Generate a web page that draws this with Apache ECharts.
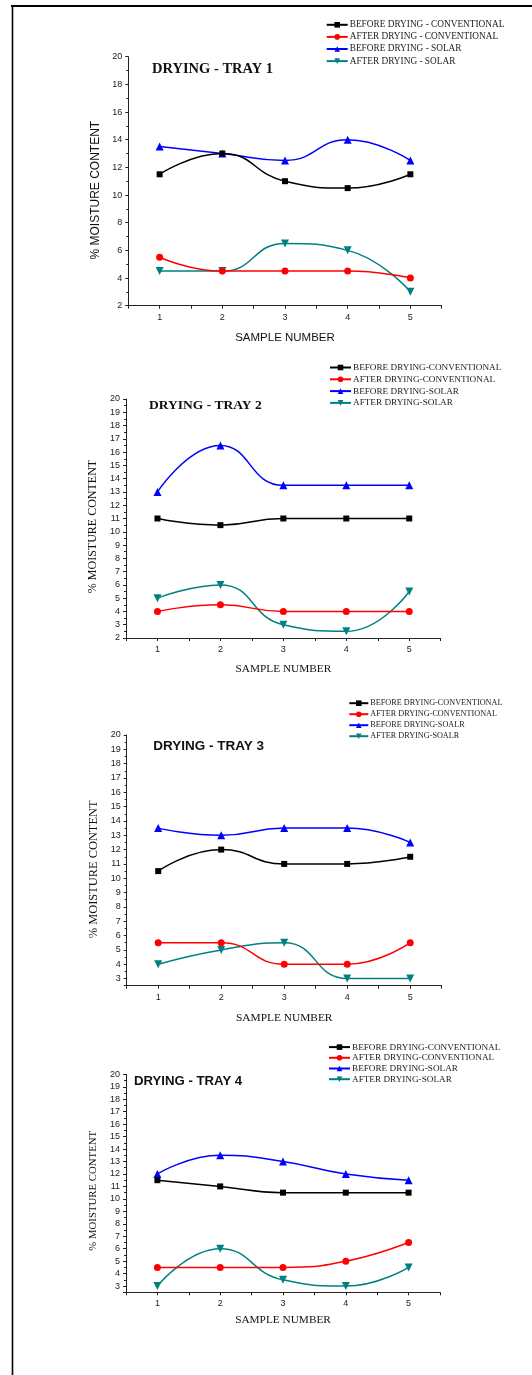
<!DOCTYPE html>
<html>
<head>
<meta charset="utf-8">
<script src="https://cdn.jsdelivr.net/npm/echarts@6/dist/echarts.min.js"></script>
<style>
html,body{margin:0;padding:0;background:#fff;}
#chart{width:532px;height:1375px;}
</style>
</head>
<body>
<div id="chart"></div>
<script>
// ---------- DATA ----------
const samples = [1, 2, 3, 4, 5];

const tray1Names = ['BEFORE DRYING - CONVENTIONAL', 'AFTER DRYING - CONVENTIONAL', 'BEFORE DRYING - SOLAR', 'AFTER DRYING - SOLAR'];
const tray1BeforeConv = [11.5, 13, 11, 10.5, 11.5];
const tray1AfterConv  = [5.5, 4.5, 4.5, 4.5, 4];
const tray1BeforeSolar = [13.5, 13, 12.5, 14, 12.5];
const tray1AfterSolar  = [4.5, 4.5, 6.5, 6, 3];

const tray2Names = ['BEFORE DRYING-CONVENTIONAL', 'AFTER DRYING-CONVENTIONAL', 'BEFORE DRYING-SOLAR', 'AFTER DRYING-SOLAR'];
const tray2BeforeConv = [11, 10.5, 11, 11, 11];
const tray2AfterConv  = [4, 4.5, 4, 4, 4];
const tray2BeforeSolar = [13, 16.5, 13.5, 13.5, 13.5];
const tray2AfterSolar  = [5, 6, 3, 2.5, 5.5];

const tray3Names = ['BEFORE DRYING-CONVENTIONAL', 'AFTER DRYING-CONVENTIONAL', 'BEFORE DRYING-SOALR', 'AFTER DRYING-SOALR'];
const tray3BeforeConv = [10.5, 12, 11, 11, 11.5];
const tray3AfterConv  = [5.5, 5.5, 4, 4, 5.5];
const tray3BeforeSolar = [13.5, 13, 13.5, 13.5, 12.5];
const tray3AfterSolar  = [4, 5, 5.5, 3, 3];

const tray4Names = ['BEFORE DRYING-CONVENTIONAL', 'AFTER DRYING-CONVENTIONAL', 'BEFORE DRYING-SOLAR', 'AFTER DRYING-SOLAR'];
const tray4BeforeConv = [11.5, 11, 10.5, 10.5, 10.5];
const tray4AfterConv  = [4.5, 4.5, 4.5, 5, 6.5];
const tray4BeforeSolar = [12, 13.5, 13, 12, 11.5];
const tray4AfterSolar  = [3, 6, 3.5, 3, 4.5];

const titles = ['DRYING - TRAY 1', 'DRYING - TRAY 2', 'DRYING - TRAY 3', 'DRYING - TRAY 4'];
const xAxisName = 'SAMPLE NUMBER';
const yAxisName = '% MOISTURE CONTENT';

// ---------- STYLE / LAYOUT ----------
const SERIF = '"Liberation Serif", "DejaVu Serif", serif';
const SANS = '"Liberation Sans", Arial, sans-serif';
const colors = ['#000000', '#ff0000', '#0000ff', '#008080'];
const symbols = ['rect', 'circle', 'triangle', 'path://M0,0 L10,0 L5,9 Z'];
const symbolSizes = [6, 7, 8, 8];

const panels = [
  { names: tray1Names, data: [tray1BeforeConv, tray1AfterConv, tray1BeforeSolar, tray1AfterSolar],
    grid: { left: 128.3, top: 56.7, width: 313.4, height: 249 },
    yMin: 2, yInterval: 2, titleFont: SERIF, titleSize: 14.5, titleLeft: 152, titleTop: 62,
    axisFont: SANS, xNameSize: 11.5, yNameSize: 12, xNameGap: 26, yNameGap: 24, yNameShift: 18,
    legend: { left: 325.7, top: 20.3, itemWidth: 21, gap: 3.1, font: 9.3 } },
  { names: tray2Names, data: [tray2BeforeConv, tray2AfterConv, tray2BeforeSolar, tray2AfterSolar],
    grid: { left: 126, top: 399, width: 314.7, height: 239 },
    yMin: 2, yInterval: 1, titleFont: SERIF, titleSize: 13.5, titleLeft: 149, titleTop: 399,
    axisFont: SERIF, xNameSize: 11.3, yNameSize: 12, xNameGap: 25.5, yNameGap: 24, yNameShift: 16,
    legend: { left: 329, top: 363, itemWidth: 21, gap: 2.8, font: 9.2 } },
  { names: tray3Names, data: [tray3BeforeConv, tray3AfterConv, tray3BeforeSolar, tray3AfterSolar],
    grid: { left: 126.7, top: 735, width: 315, height: 250.7 },
    yMin: 2.5, yInterval: null, titleFont: SANS, titleSize: 13.5, titleLeft: 153.3, titleTop: 739,
    axisFont: SERIF, xNameSize: 11.4, yNameSize: 12.4, xNameGap: 26.5, yNameGap: 24.5, yNameShift: 18,
    legend: { left: 348.3, top: 699.2, itemWidth: 19, gap: 3.0, font: 8.2 } },
  { names: tray4Names, data: [tray4BeforeConv, tray4AfterConv, tray4BeforeSolar, tray4AfterSolar],
    grid: { left: 126, top: 1074.3, width: 314, height: 218 },
    yMin: 2.5, yInterval: null, titleFont: SANS, titleSize: 13.2, titleLeft: 134, titleTop: 1074.5,
    axisFont: SERIF, xNameSize: 11.3, yNameSize: 10.8, xNameGap: 22, yNameGap: 24.5, yNameShift: 15,
    legend: { left: 328, top: 1042.6, itemWidth: 21, gap: 1.7, font: 9.2 } }
];

const option = {
  backgroundColor: '#ffffff',
  animation: false,
  title: [], grid: [], xAxis: [], yAxis: [], legend: [], series: [],
  graphic: [
    { type: 'line', shape: { x1: 11, y1: 6, x2: 532, y2: 6 }, style: { stroke: '#000', lineWidth: 2 } },
    { type: 'line', shape: { x1: 12.5, y1: 5, x2: 12.5, y2: 1375 }, style: { stroke: '#000', lineWidth: 1.6 } }
  ]
};

panels.forEach((p, i) => {
  option.title.push({
    text: titles[i], left: p.titleLeft, top: p.titleTop, padding: 0,
    textStyle: { fontFamily: p.titleFont, fontSize: p.titleSize, fontWeight: 'bold', color: '#111' }
  });
  option.grid.push(Object.assign({ containLabel: false }, p.grid));
  option.xAxis.push({
    type: 'value', gridIndex: i, min: 0.5, max: 5.5, interval: 0.5,
    name: xAxisName, nameLocation: 'middle', nameGap: p.xNameGap,
    nameTextStyle: { fontFamily: p.axisFont, fontSize: p.xNameSize, color: '#111' },
    axisLine: { lineStyle: { color: '#222', width: 1 } },
    axisTick: { show: true, inside: false, length: 3, lineStyle: { color: '#222' } },
    axisLabel: { fontFamily: SANS, fontSize: 9, color: '#222', margin: 7,
      formatter: v => (Number.isInteger(v) && v >= 1 && v <= 5) ? String(v) : '' },
    splitLine: { show: false }
  });
  const y = {
    type: 'value', gridIndex: i, min: p.yMin, max: 20,
    name: yAxisName, nameLocation: 'middle', nameGap: p.yNameGap, nameRotate: 90,
    nameTextStyle: { fontFamily: p.axisFont, fontSize: p.yNameSize, color: '#111',
      padding: [0, p.yNameShift, 0, 0] },
    axisLine: { show: true, lineStyle: { color: '#222', width: 1 } },
    axisTick: { show: true, inside: false, length: 3, lineStyle: { color: '#222' } },
    minorTick: { show: true, splitNumber: 2, length: 2, lineStyle: { color: '#222' } },
    axisLabel: { fontFamily: SANS, fontSize: 9, color: '#222', margin: 6,
      formatter: v => Number.isInteger(v) ? String(v) : '' },
    splitLine: { show: false }
  };
  if (p.yInterval) y.interval = p.yInterval; else y.splitNumber = 18;
  option.yAxis.push(y);
  option.legend.push({
    orient: 'vertical', left: p.legend.left, top: p.legend.top, padding: 0,
    itemWidth: p.legend.itemWidth, itemHeight: 7, itemGap: p.legend.gap,
    data: p.names, selectedMode: false,
    textStyle: { fontFamily: SERIF, fontSize: p.legend.font, color: '#222', padding: [0, 0, 0, -3] }
  });
  p.names.forEach((name, k) => {
    option.series.push({
      type: 'line', name: name, xAxisIndex: i, yAxisIndex: i,
      data: samples.map((s, j) => [s, p.data[k][j]]),
      smooth: 0.5,
      symbol: symbols[k], symbolSize: symbolSizes[k],
      lineStyle: { color: colors[k], width: 1.5 },
      itemStyle: { color: colors[k] },
      z: 10 - k
    });
  });
});

const chart = echarts.init(document.getElementById('chart'), null, { renderer: 'canvas' });
chart.setOption(option);
</script>
</body>
</html>
